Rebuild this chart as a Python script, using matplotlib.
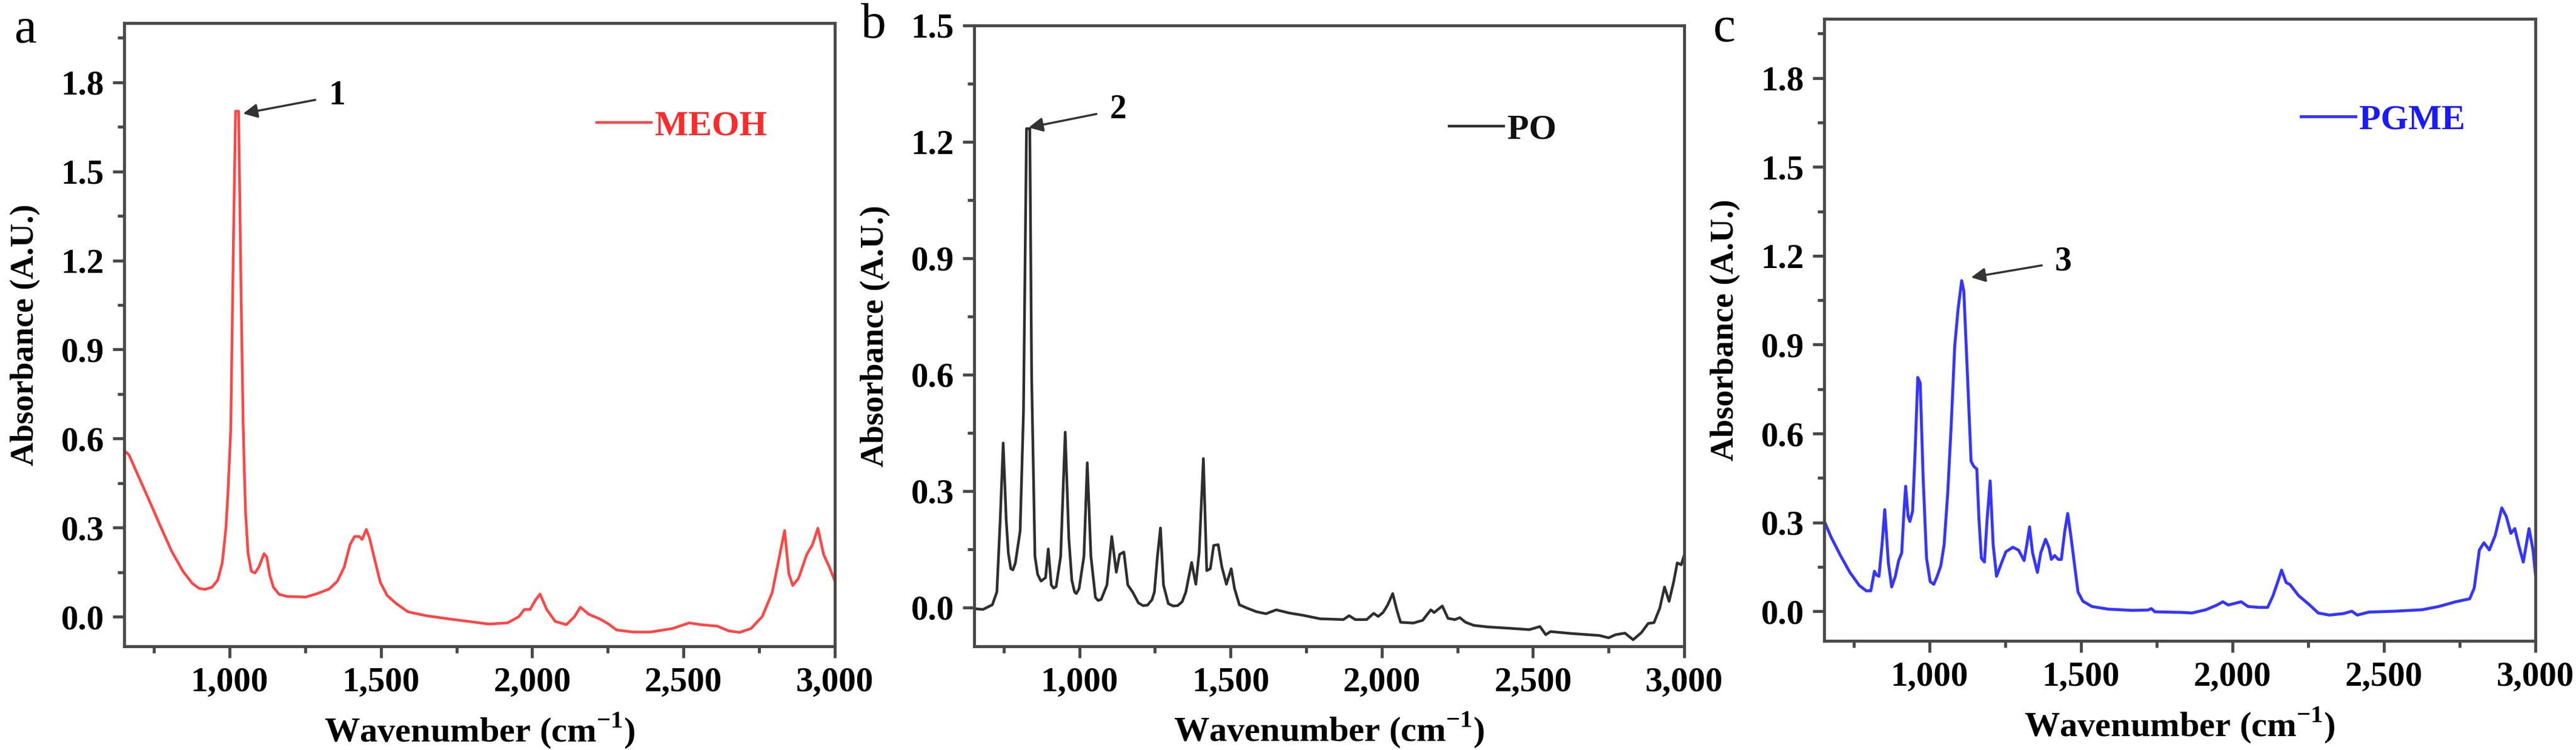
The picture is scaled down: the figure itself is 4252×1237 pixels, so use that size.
import numpy as np
import matplotlib.pyplot as plt
from matplotlib.ticker import MultipleLocator, FuncFormatter

# шрифт как Times New Roman
plt.rcParams['font.family'] = ['Liberation Serif', 'DejaVu Serif']
plt.rcParams['font.weight'] = 'bold'
plt.rcParams['mathtext.fontset'] = 'custom'
plt.rcParams['mathtext.rm'] = 'Liberation Serif:bold'
plt.rcParams['mathtext.bf'] = 'Liberation Serif:bold'

# Спектр MEOH
meoh_wn = [652, 668, 692, 731, 769, 808, 846, 877, 900, 919, 942, 961, 976, 988, 995,
           1004, 1013, 1020, 1030, 1038, 1045, 1049, 1053, 1061, 1072, 1084, 1097, 1114,
           1123, 1133, 1145, 1164, 1191, 1252, 1291, 1329, 1356, 1379, 1398, 1413, 1429,
           1438, 1452, 1463, 1479, 1498, 1521, 1551, 1590, 1651, 1728, 1857, 1919, 1956,
           1974, 1993, 2011, 2026, 2048, 2076, 2113, 2140, 2159, 2187, 2224, 2251, 2279,
           2334, 2390, 2464, 2519, 2556, 2612, 2649, 2686, 2723, 2760, 2793, 2815, 2834,
           2848, 2861, 2880, 2907, 2926, 2944, 2963, 2981, 3000]
meoh_abs = [0.560, 0.545, 0.489, 0.400, 0.311, 0.222, 0.153, 0.112, 0.095, 0.092, 0.099,
            0.123, 0.181, 0.297, 0.420, 0.628, 1.272, 1.703, 1.703, 1.100, 0.650, 0.489,
            0.352, 0.215, 0.153, 0.147, 0.167, 0.212, 0.201, 0.140, 0.099, 0.075, 0.068,
            0.066, 0.078, 0.093, 0.119, 0.167, 0.242, 0.270, 0.270, 0.260, 0.294, 0.263,
            0.195, 0.116, 0.071, 0.044, 0.016, 0.003, -0.008, -0.025, -0.021, 0.000,
            0.024, 0.024, 0.056, 0.076, 0.024, -0.016, -0.027, 0.000, 0.032, 0.008,
            -0.008, -0.024, -0.045, -0.052, -0.052, -0.040, -0.021, -0.027, -0.032,
            -0.048, -0.053, -0.040, 0.000, 0.081, 0.193, 0.290, 0.145, 0.105, 0.129,
            0.209, 0.242, 0.298, 0.209, 0.169, 0.121]

# Спектр PO
po_wn = [652, 681, 712, 727, 738, 748, 758, 765, 773, 780, 788, 804, 815, 825, 836, 842,
         853, 862, 873, 888, 897, 907, 915, 923, 938, 953, 965, 975, 984, 990, 999, 1015,
         1026, 1038, 1053, 1062, 1072, 1091, 1107, 1122, 1133, 1147, 1160, 1176, 1195,
         1210, 1225, 1240, 1248, 1258, 1268, 1278, 1294, 1310, 1325, 1340, 1352, 1371,
         1385, 1396, 1410, 1421, 1433, 1444, 1459, 1471, 1486, 1502, 1513, 1529, 1556,
         1586, 1617, 1651, 1693, 1739, 1796, 1873, 1892, 1912, 1950, 1973, 1988, 2004,
         2019, 2036, 2050, 2062, 2104, 2135, 2162, 2173, 2200, 2219, 2242, 2258, 2277,
         2304, 2350, 2412, 2488, 2523, 2542, 2558, 2627, 2719, 2750, 2773, 2804, 2831,
         2858, 2881, 2900, 2919, 2935, 2950, 2965, 2977, 2990, 3000]
po_abs = [-0.003, -0.005, 0.007, 0.040, 0.225, 0.424, 0.225, 0.140, 0.100, 0.097, 0.114,
          0.197, 0.503, 1.234, 1.234, 0.595, 0.132, 0.085, 0.068, 0.077, 0.151, 0.058,
          0.050, 0.054, 0.132, 0.452, 0.179, 0.070, 0.040, 0.036, 0.049, 0.132, 0.373,
          0.132, 0.026, 0.018, 0.021, 0.058, 0.183, 0.091, 0.137, 0.143, 0.058, 0.040,
          0.012, 0.005, 0.006, 0.020, 0.040, 0.132, 0.205, 0.058, 0.010, 0.004, 0.005,
          0.015, 0.040, 0.116, 0.060, 0.142, 0.384, 0.095, 0.100, 0.160, 0.162, 0.105,
          0.060, 0.100, 0.049, 0.007, -0.002, -0.011, -0.016, -0.006, -0.014, -0.020,
          -0.029, -0.031, -0.021, -0.031, -0.031, -0.015, -0.023, -0.013, 0.006, 0.036,
          -0.007, -0.038, -0.040, -0.033, -0.006, -0.013, 0.004, -0.028, -0.031, -0.026,
          -0.038, -0.046, -0.050, -0.053, -0.057, -0.049, -0.070, -0.062, -0.067,
          -0.072, -0.078, -0.070, -0.066, -0.083, -0.065, -0.041, -0.039, -0.002, 0.053,
          0.016, 0.066, 0.115, 0.110, 0.135]

# Спектр PGME
pgme_wn = [652, 675, 706, 737, 768, 791, 806, 818, 825, 833, 843, 852, 864, 875, 887,
           898, 908, 915, 921, 929, 935, 944, 952, 961, 969, 979, 990, 1002, 1014, 1025,
           1037, 1048, 1060, 1071, 1083, 1094, 1106, 1113, 1125, 1137, 1146, 1156, 1163,
           1171, 1181, 1190, 1200, 1210, 1221, 1237, 1252, 1275, 1294, 1312, 1321, 1330,
           1340, 1356, 1367, 1383, 1394, 1402, 1413, 1425, 1435, 1446, 1456, 1467, 1479,
           1490, 1506, 1536, 1590, 1667, 1721, 1732, 1744, 1834, 1866, 1912, 1949, 1968,
           1986, 2005, 2029, 2051, 2088, 2116, 2134, 2153, 2162, 2177, 2190, 2218, 2255,
           2283, 2320, 2366, 2394, 2412, 2450, 2533, 2626, 2681, 2737, 2783, 2798, 2815,
           2830, 2848, 2867, 2889, 2904, 2919, 2932, 2945, 2960, 2979, 2992, 3000]
pgme_abs = [0.305, 0.250, 0.188, 0.131, 0.087, 0.069, 0.069, 0.135, 0.122, 0.118, 0.224,
            0.343, 0.162, 0.082, 0.118, 0.171, 0.197, 0.330, 0.422, 0.321, 0.303, 0.338,
            0.533, 0.789, 0.771, 0.444, 0.179, 0.100, 0.091, 0.118, 0.153, 0.224, 0.400,
            0.621, 0.895, 1.019, 1.116, 1.081, 0.798, 0.506, 0.489, 0.480, 0.312, 0.179,
            0.166, 0.312, 0.440, 0.224, 0.118, 0.162, 0.201, 0.216, 0.206, 0.171, 0.224,
            0.285, 0.197, 0.131, 0.197, 0.243, 0.215, 0.175, 0.188, 0.175, 0.175, 0.268,
            0.330, 0.250, 0.153, 0.065, 0.034, 0.016, 0.007, 0.003, 0.004, 0.009, -0.002,
            -0.004, -0.006, 0.005, 0.021, 0.032, 0.021, 0.026, 0.032, 0.016, 0.013, 0.013,
            0.053, 0.110, 0.139, 0.097, 0.090, 0.053, 0.021, -0.006, -0.013, -0.008, 0.000,
            -0.013, -0.003, 0.000, 0.005, 0.016, 0.032, 0.042, 0.078, 0.207, 0.231, 0.207,
            0.255, 0.349, 0.320, 0.263, 0.279, 0.223, 0.166, 0.279, 0.207, 0.126]

W, H = 4252, 1237
fig = plt.figure(figsize=(W / 100, H / 100), dpi=100)


def px_axes(left, right, top, bottom):
    return fig.add_axes([left / W, 1 - bottom / H, (right - left) / W, (bottom - top) / H])


def style_axes(ax, ytop, ymax_tick):
    ax.set_xlim(652, 3000)
    ax.set_ylim(-0.1, ytop)
    ax.xaxis.set_major_locator(MultipleLocator(500))
    ax.xaxis.set_minor_locator(MultipleLocator(250))
    ax.set_yticks(np.arange(0, ymax_tick + 0.01, 0.3))
    ax.yaxis.set_minor_locator(MultipleLocator(0.15))
    ax.xaxis.set_major_formatter(FuncFormatter(lambda v, p: '{:,.0f}'.format(v)))
    ax.yaxis.set_major_formatter(FuncFormatter(lambda v, p: '%.1f' % v))
    for sp in ax.spines.values():
        sp.set_linewidth(3.5)
        sp.set_color('#484848')
    ax.tick_params(which='major', direction='out', length=14, width=3.5, color='#484848',
                   labelsize=41, pad=10)
    ax.tick_params(which='minor', direction='out', length=8, width=3.5, color='#484848')
    for lab in ax.get_xticklabels() + ax.get_yticklabels():
        lab.set_fontweight('bold')
    ax.set_xlabel('Wavenumber (cm$^{\\mathregular{-1}}$)', fontsize=42, fontweight='bold')
    ax.set_ylabel('Absorbance (A.U.)', fontsize=39, fontweight='bold')
    ax.xaxis.set_label_coords(0.5, -0.135)
    ax.xaxis.label.set_va('center')
    ax.yaxis.set_label_coords(-0.139, 0.5)
    ax.yaxis.label.set_va('center')


def add_legend(ax, line, name, tcolor, x, y):
    leg = ax.legend([line], [name], loc='center left', bbox_to_anchor=(x, y), frameon=False,
                    borderpad=0, borderaxespad=0, handlelength=1.55, handletextpad=0.1,
                    prop={'size': 42, 'weight': 'bold'})
    for t in leg.get_texts():
        t.set_color(tcolor)


def add_arrow(ax, label, tip, text_pos):
    ax.annotate(label, xy=tip, xytext=text_pos, fontsize=40, fontweight='bold',
                ha='center', va='center',
                arrowprops=dict(arrowstyle='-|>', color='#333333', lw=2.5,
                                mutation_scale=35, shrinkA=14, shrinkB=0))


# a - MEOH
ax1 = px_axes(205, 1378, 38, 1066)
l1, = ax1.plot(meoh_wn, meoh_abs, color='#ff4545', linewidth=3.2, solid_joinstyle='round')
style_axes(ax1, 2.0, 1.8)
add_legend(ax1, l1, 'MEOH', '#ff2a2a', 0.665, 0.835)
add_arrow(ax1, '1', (1045, 1.695), (1355, 1.755))
fig.text(42 / W, 1 - 50 / H, 'a', fontsize=60, fontweight='normal', ha='center', va='center')

# b - PO
ax2 = px_axes(1608, 2780, 42, 1066)
l2, = ax2.plot(po_wn, po_abs, color='#2e2e2e', linewidth=3.2, solid_joinstyle='round')
style_axes(ax2, 1.5, 1.5)
add_legend(ax2, l2, 'PO', '#111111', 0.669, 0.832)
add_arrow(ax2, '2', (832, 1.237), (1128, 1.283))
fig.text(1442 / W, 1 - 42 / H, 'b', fontsize=60, fontweight='normal', ha='center', va='center')

# c - PGME
ax3 = px_axes(3011, 4185, 31, 1057)
l3, = ax3.plot(pgme_wn, pgme_abs, color='#3535ff', linewidth=3.5, solid_joinstyle='round')
style_axes(ax3, 2.0, 1.8)
add_legend(ax3, l3, 'PGME', '#1a1aff', 0.67, 0.837)
add_arrow(ax3, '3', (1137, 1.127), (1442, 1.18))
fig.text(2846 / W, 1 - 48 / H, 'c', fontsize=60, fontweight='normal', ha='center', va='center')

fig.savefig('out.png', dpi=100)
